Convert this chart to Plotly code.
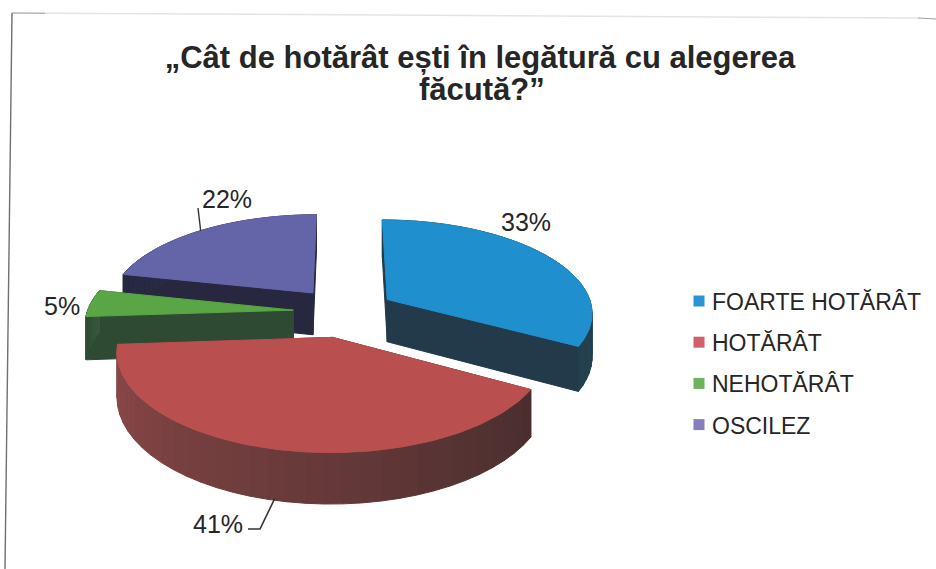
import numpy as np
import plotly.graph_objects as go

categories = ["FOARTE HOTĂRÂT", "HOTĂRÂT", "NEHOTĂRÂT", "OSCILEZ"]
values = [33.4, 41.1, 4.6, 21.7]
labels = ["33%", "41%", "5%", "22%"]
top_colors = ["#1f8fce", "#b9504f", "#5aa545", "#6465a8"]
side_light = ["#24404f", "#8c4848", "#38583c", "#2e2e4c"]
side_dark = ["#233a4a", "#4a2e2e", "#2f4a33", "#272840"]
legend_colors = ["#2b93d6", "#d0606a", "#6cb35a", "#8580bd"]
title_lines = ["„Cât de hotărât ești în legătură cu alegerea", "făcută?”"]

W, H = 936, 569
CX, CY = 344, 312
RX, RY = 206, 93
EXPLODE_U = 51 / 206
EXPLODE_V = 0.27
PERSP = 0.13
DEPTH = 43


def project(U, V, z=0.0):
    s = 1 / (1 - PERSP * V)
    return CX + RX * U * s, CY + RY * V * s + z * DEPTH * s


def blend(a, b, t):
    ca = [int(a[i:i + 2], 16) for i in (1, 3, 5)]
    cb = [int(b[i:i + 2], 16) for i in (1, 3, 5)]
    return "#%02x%02x%02x" % tuple(int(round(p + (q - p) * t)) for p, q in zip(ca, cb))


def poly(xs, ys, color):
    return go.Scatter(x=xs, y=ys, mode="lines", fill="toself", fillcolor=color,
                      line=dict(color=color, width=1), hoverinfo="skip", showlegend=False)


total = sum(values)
fracs = np.array(values) / total
starts = np.concatenate([[0], np.cumsum(fracs)[:-1]]) * 2 * np.pi
ends = np.cumsum(fracs) * 2 * np.pi

fig = go.Figure()
# painter's order: back slices first
for i in [3, 0, 2, 1]:
    a0, a1 = starts[i], ends[i]
    mid = (a0 + a1) / 2
    ou, ov = EXPLODE_U * np.sin(mid), -EXPLODE_V * np.cos(mid)
    th = np.linspace(a0, a1, 100)
    u, v = np.sin(th) + ou, -np.cos(th) + ov
    # radial cut faces
    for t in (a0, a1):
        ue, ve = np.sin(t) + ou, -np.cos(t) + ov
        x1, y1 = project(ou, ov)
        x2, y2 = project(ue, ve)
        x3, y3 = project(ue, ve, 1)
        x4, y4 = project(ou, ov, 1)
        fig.add_trace(poly([x1, x2, x3, x4, x1], [y1, y2, y3, y4, y1], side_dark[i]))
    # outer wall, shaded in bands
    bands = 33
    for b in range(bands):
        idx0 = b * 99 // bands
        idx1 = (b + 1) * 99 // bands + 1
        uu, vv = u[idx0:idx1], v[idx0:idx1]
        xt, yt = project(uu, vv)
        xb, yb = project(uu, vv, 1)
        t = b / (bands - 1)
        c = blend(side_dark[i], side_light[i], t)
        fig.add_trace(poly(np.r_[xt, xb[::-1], xt[0]], np.r_[yt, yb[::-1], yt[0]], c))
    # top face
    xt, yt = project(np.r_[ou, u, ou], np.r_[ov, v, ov])
    fig.add_trace(poly(xt, yt, top_colors[i]))

label_pos = [(526, 222), (218, 524), (62, 306), (227, 199)]
annotations = [dict(x=p[0], y=p[1], xref="x", yref="y", text=t, showarrow=False,
                    font=dict(family="Liberation Sans", size=25, color="#262626"))
               for t, p in zip(labels, label_pos)]
annotations.append(dict(x=482, y=89, xref="x", yref="y", text=title_lines[1], showarrow=False,
                        font=dict(family="Liberation Sans", size=31, color="#262626", weight="bold")))

# legend
LEG_X, LEG_Y, LEG_STEP, LEG_TEXT_X = 699, 301, 41.2, 712
for k, cat in enumerate(categories):
    fig.add_trace(go.Scatter(x=[LEG_X], y=[LEG_Y + k * LEG_STEP], mode="markers",
                             marker=dict(symbol="square", size=11, color=legend_colors[k]),
                             name=cat, showlegend=False, hoverinfo="name"))
    annotations.append(dict(x=LEG_TEXT_X, y=LEG_Y + 1 + k * LEG_STEP, xref="x", yref="y", text=cat,
                            xanchor="left", showarrow=False, xshift=-2,
                            font=dict(family="Liberation Sans", size=23, color="#262626")))

line = dict(color="#333333", width=1.6)
shapes = [
    dict(type="path", path="M 248 529 L 260 529 L 275 498", line=line),
    dict(type="path", path="M 198 208 L 200.7 231", line=dict(color="#333333", width=1.4)),
    dict(type="line", x0=12, x1=5, y0=13, y1=569, line=dict(color="#707070", width=1.4)),
    dict(type="line", x0=12, x1=45, y0=13, y1=13.2, line=dict(color="#909090", width=1)),
    dict(type="line", x0=45, x1=918, y0=13.2, y1=18, line=dict(color="#e4e4e4", width=1.5)),
    dict(type="line", x0=918, x1=936, y0=18, y1=19, line=dict(color="#a0a0a0", width=1)),
]

fig.update_layout(
    width=W, height=H, margin=dict(l=0, r=0, t=0, b=0), autosize=False,
    paper_bgcolor="white", plot_bgcolor="white", showlegend=False,
    xaxis=dict(range=[0, W], visible=False, fixedrange=True),
    yaxis=dict(range=[H, 0], visible=False, fixedrange=True),
    title=dict(text=title_lines[0], x=480 / W, xanchor="center", y=1 - 57 / H, yanchor="middle",
               font=dict(family="Liberation Sans", size=31, color="#262626", weight="bold")),
    annotations=annotations, shapes=shapes,
)
fig.write_html("out.html", post_script="document.body.style.margin='0';", config=dict(displayModeBar=False))
